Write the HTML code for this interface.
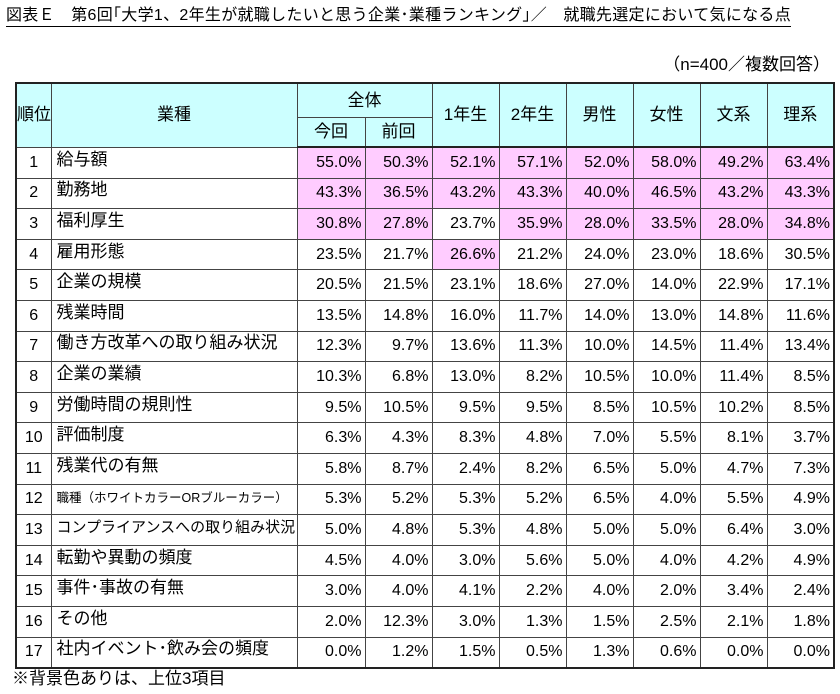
<!DOCTYPE html>
<html><head><meta charset="utf-8"><style>
body{margin:0;width:840px;height:694px;background:#fff;position:relative;font-family:"Liberation Sans","Noto Sans CJK JP",sans-serif;color:#000;overflow:hidden}
#title{position:absolute;left:6px;top:6px;font-size:16px;white-space:nowrap;border-bottom:1px solid #000;line-height:20px;letter-spacing:0.3px}
#note{position:absolute;right:10px;top:50px;font-size:17px;white-space:nowrap}
#foot{position:absolute;left:12px;top:669px;font-size:17px;white-space:nowrap;line-height:20px}
table{position:absolute;left:15px;top:82px;border-collapse:collapse;table-layout:fixed;width:818px;border:2.5px solid #222}
td,th{border:1px solid #444;padding:0;font-weight:normal;overflow:hidden;white-space:nowrap;line-height:18px;vertical-align:middle}
th{background:#ccffff;font-size:17px;text-align:center}
tr.h1 th{height:33px}
tr.h2 th{height:28px}
tr.h2 th, tr.h1 th.r2{border-bottom:2.5px solid #222}
td{height:29.6px;font-size:16px;text-align:right;padding-right:3px}
td.rk{text-align:center;padding:0}
td.nm{text-align:left;padding-left:5px;font-size:17px}
td.nm span{position:relative;top:-3px}
td.p{background:#ffccff}
</style></head><body>
<div id="title">図表Ｅ　第6回｢大学1、2年生が就職したいと思う企業･業種ランキング｣／　就職先選定において気になる点</div>
<div id="note">（n=400／複数回答）</div>
<table>
<colgroup><col style="width:35px"><col style="width:246px"><col style="width:68px"><col style="width:67px"><col style="width:67px"><col style="width:67px"><col style="width:67px"><col style="width:67px"><col style="width:67px"><col style="width:67px"></colgroup>
<tr class="h1"><th rowspan="2">順位</th><th rowspan="2">業種</th><th colspan="2">全体</th><th rowspan="2" class="r2">1年生</th><th rowspan="2" class="r2">2年生</th><th rowspan="2" class="r2">男性</th><th rowspan="2" class="r2">女性</th><th rowspan="2" class="r2">文系</th><th rowspan="2" class="r2">理系</th></tr>
<tr class="h2"><th>今回</th><th>前回</th></tr>
<tr><td class="rk">1</td><td class="nm"><span>給与額</span></td><td class="p">55.0%</td><td class="p">50.3%</td><td class="p">52.1%</td><td class="p">57.1%</td><td class="p">52.0%</td><td class="p">58.0%</td><td class="p">49.2%</td><td class="p">63.4%</td></tr>
<tr><td class="rk">2</td><td class="nm"><span>勤務地</span></td><td class="p">43.3%</td><td class="p">36.5%</td><td class="p">43.2%</td><td class="p">43.3%</td><td class="p">40.0%</td><td class="p">46.5%</td><td class="p">43.2%</td><td class="p">43.3%</td></tr>
<tr><td class="rk">3</td><td class="nm"><span>福利厚生</span></td><td class="p">30.8%</td><td class="p">27.8%</td><td>23.7%</td><td class="p">35.9%</td><td class="p">28.0%</td><td class="p">33.5%</td><td class="p">28.0%</td><td class="p">34.8%</td></tr>
<tr><td class="rk">4</td><td class="nm"><span>雇用形態</span></td><td>23.5%</td><td>21.7%</td><td class="p">26.6%</td><td>21.2%</td><td>24.0%</td><td>23.0%</td><td>18.6%</td><td>30.5%</td></tr>
<tr><td class="rk">5</td><td class="nm"><span>企業の規模</span></td><td>20.5%</td><td>21.5%</td><td>23.1%</td><td>18.6%</td><td>27.0%</td><td>14.0%</td><td>22.9%</td><td>17.1%</td></tr>
<tr><td class="rk">6</td><td class="nm"><span>残業時間</span></td><td>13.5%</td><td>14.8%</td><td>16.0%</td><td>11.7%</td><td>14.0%</td><td>13.0%</td><td>14.8%</td><td>11.6%</td></tr>
<tr><td class="rk">7</td><td class="nm"><span>働き方改革への取り組み状況</span></td><td>12.3%</td><td>9.7%</td><td>13.6%</td><td>11.3%</td><td>10.0%</td><td>14.5%</td><td>11.4%</td><td>13.4%</td></tr>
<tr><td class="rk">8</td><td class="nm"><span>企業の業績</span></td><td>10.3%</td><td>6.8%</td><td>13.0%</td><td>8.2%</td><td>10.5%</td><td>10.0%</td><td>11.4%</td><td>8.5%</td></tr>
<tr><td class="rk">9</td><td class="nm"><span>労働時間の規則性</span></td><td>9.5%</td><td>10.5%</td><td>9.5%</td><td>9.5%</td><td>8.5%</td><td>10.5%</td><td>10.2%</td><td>8.5%</td></tr>
<tr><td class="rk">10</td><td class="nm"><span>評価制度</span></td><td>6.3%</td><td>4.3%</td><td>8.3%</td><td>4.8%</td><td>7.0%</td><td>5.5%</td><td>8.1%</td><td>3.7%</td></tr>
<tr><td class="rk">11</td><td class="nm"><span>残業代の有無</span></td><td>5.8%</td><td>8.7%</td><td>2.4%</td><td>8.2%</td><td>6.5%</td><td>5.0%</td><td>4.7%</td><td>7.3%</td></tr>
<tr><td class="rk">12</td><td class="nm" style="font-size:12.5px"><span style="top:-1px">職種（ホワイトカラーORブルーカラー）</span></td><td>5.3%</td><td>5.2%</td><td>5.3%</td><td>5.2%</td><td>6.5%</td><td>4.0%</td><td>5.5%</td><td>4.9%</td></tr>
<tr><td class="rk">13</td><td class="nm" style="font-size:15px"><span style="top:-2px">コンプライアンスへの取り組み状況</span></td><td>5.0%</td><td>4.8%</td><td>5.3%</td><td>4.8%</td><td>5.0%</td><td>5.0%</td><td>6.4%</td><td>3.0%</td></tr>
<tr><td class="rk">14</td><td class="nm"><span>転勤や異動の頻度</span></td><td>4.5%</td><td>4.0%</td><td>3.0%</td><td>5.6%</td><td>5.0%</td><td>4.0%</td><td>4.2%</td><td>4.9%</td></tr>
<tr><td class="rk">15</td><td class="nm"><span>事件･事故の有無</span></td><td>3.0%</td><td>4.0%</td><td>4.1%</td><td>2.2%</td><td>4.0%</td><td>2.0%</td><td>3.4%</td><td>2.4%</td></tr>
<tr><td class="rk">16</td><td class="nm"><span>その他</span></td><td>2.0%</td><td>12.3%</td><td>3.0%</td><td>1.3%</td><td>1.5%</td><td>2.5%</td><td>2.1%</td><td>1.8%</td></tr>
<tr><td class="rk">17</td><td class="nm"><span>社内イベント･飲み会の頻度</span></td><td>0.0%</td><td>1.2%</td><td>1.5%</td><td>0.5%</td><td>1.3%</td><td>0.6%</td><td>0.0%</td><td>0.0%</td></tr>
</table>
<div id="foot">※背景色ありは、上位3項目</div>
</body></html>
